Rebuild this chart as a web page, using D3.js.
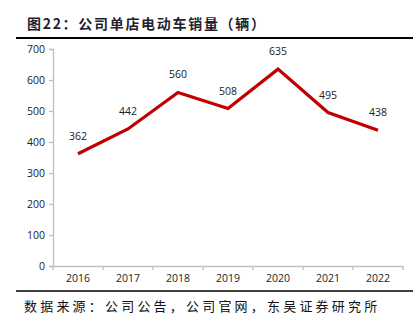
<!DOCTYPE html>
<html><head><meta charset="utf-8">
<script src="https://cdn.jsdelivr.net/npm/d3@7"></script>
<style>body{margin:0;background:#fff}svg{display:block}</style>
</head><body>
<svg id="c" width="420" height="329"></svg>
<script>
const years = ["2016","2017","2018","2019","2020","2021","2022"];
const sales = [362, 442, 560, 508, 635, 495, 438];
const yTicks = [0,100,200,300,400,500,600,700];
const titleText = "图22：公司单店电动车销量（辆）";
const sourceText = "数据来源：公司公告，公司官网，东吴证券研究所";

const svg = d3.select("#c");
const m = {l:53, r:403, t:49, b:266};
const x = d3.scaleBand().domain(years).range([m.l, m.r]);
const y = d3.scaleLinear().domain([0,700]).range([m.b, m.t]);
const cjk = "'Noto Sans CJK SC', sans-serif";

svg.append("text").attr("x",27).attr("y",29).attr("font-family",cjk).attr("font-weight","bold")
  .attr("font-size",14).attr("letter-spacing",1.7).attr("fill","#1f1f2f").text(titleText);
svg.append("line").attr("x1",16).attr("x2",413).attr("y1",38).attr("y2",38).attr("stroke","#000").attr("stroke-width",2);

const gy = svg.append("g").attr("transform",`translate(${m.l},0)`)
  .call(d3.axisLeft(y).tickValues(yTicks).tickSize(4).tickPadding(4));
const gx = svg.append("g").attr("transform",`translate(0,${m.b})`)
  .call(d3.axisBottom(x).tickSize(0).tickPadding(9));
[gy,gx].forEach(g=>{
  g.selectAll("path,line").attr("stroke","#bfbfbf").attr("stroke-width",1.3);
  g.selectAll("text").attr("font-family","'Open Sans', sans-serif").attr("font-size",10.5).attr("fill","#222");
});
const bounds = years.map(d=>x(d)).concat([m.r]);
gx.selectAll(".bt").data(bounds).enter().append("line").attr("class","bt")
  .attr("x1",d=>d).attr("x2",d=>d).attr("y1",0).attr("y2",4).attr("stroke","#bfbfbf").attr("stroke-width",1.3);

const cx = d=>x(d)+x.bandwidth()/2;
const line = d3.line().x((d,i)=>cx(years[i])).y(d=>y(d));
svg.append("path").datum(sales).attr("d",line).attr("fill","none")
  .attr("stroke","#c00000").attr("stroke-width",3.2).attr("stroke-linejoin","miter");

svg.selectAll(".lbl").data(sales).enter().append("text").attr("class","lbl")
  .attr("x",(d,i)=>cx(years[i])).attr("y",d=>y(d)-14).attr("text-anchor","middle")
  .attr("font-family","'Open Sans', sans-serif").attr("font-size",10.5).attr("fill","#222").text(d=>d);

svg.append("line").attr("x1",16).attr("x2",413).attr("y1",291).attr("y2",291).attr("stroke","#000").attr("stroke-width",1.5);
svg.append("text").attr("x",24).attr("y",311).attr("font-family",cjk).attr("font-size",13)
  .attr("letter-spacing",3.2).attr("fill","#111").text(sourceText);
</script>
</body></html>
